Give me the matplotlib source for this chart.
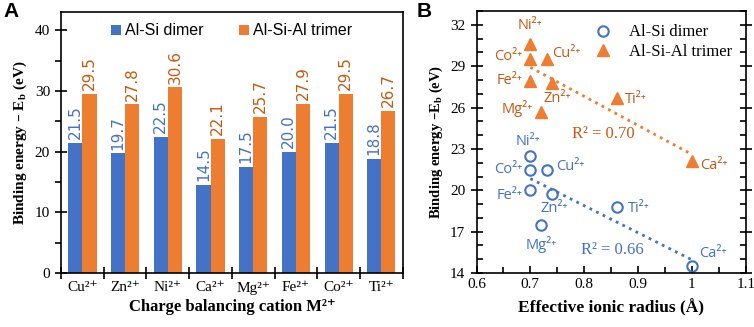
# -*- coding: utf-8 -*-
# Binding energies of Al-Si dimer / Al-Si-Al trimer with different cations
import numpy as np
import matplotlib
matplotlib.use('Agg')
import matplotlib.pyplot as plt
from matplotlib.ticker import MultipleLocator, FixedLocator

# Data
cations = ['Cu', 'Zn', 'Ni', 'Ca', 'Mg', 'Fe', 'Co', 'Ti']
dimer = [21.5, 19.7, 22.5, 14.5, 17.5, 20.0, 21.5, 18.8]
trimer = [29.5, 27.8, 30.6, 22.1, 25.7, 27.9, 29.5, 26.7]
radius = [0.73, 0.74, 0.70, 1.00, 0.72, 0.70, 0.70, 0.86]
xticks_b = [0.6, 0.7, 0.8, 0.9, 1.0, 1.1]
xticklabels_b = ['0.6', '0.7', '0.8', '0.9', '1', '1.1']
yticks_b = [14, 17, 20, 23, 26, 29, 32]

blue = '#4472C4'
orange = '#ED7D31'
dark_orange = '#C55A11'
serif = ['Liberation Serif', 'DejaVu Serif']
sans = ['Open Sans', 'DejaVu Sans']
narrow = ['Liberation Sans Narrow', 'DejaVu Sans']
sup = '²⁺'

fig = plt.figure(figsize=(7.54, 3.27), dpi=100)

# ---------------- Panel A ----------------
axA = fig.add_axes([0.081, 0.165, 0.453, 0.798])
x = np.arange(len(cations))
w = 0.33
axA.bar(x - w/2, dimer, w, color=blue, label='Al-Si dimer')
axA.bar(x + w/2, trimer, w, color=orange, label='Al-Si-Al trimer')
for i in range(len(cations)):
    axA.text(x[i] - w/2, dimer[i] + 0.6, '%.1f' % dimer[i], rotation=90,
             ha='center', va='bottom', color=blue, fontsize=11, family=narrow)
    axA.text(x[i] + w/2, trimer[i] + 0.6, '%.1f' % trimer[i], rotation=90,
             ha='center', va='bottom', color=dark_orange, fontsize=11, family=narrow)
axA.set_xlim(-0.5, len(cations) - 0.5)
axA.set_ylim(0, 43)
axA.set_xticks(x)
axA.set_xticklabels([c + sup for c in cations], family=serif, fontsize=11)
axA.xaxis.set_minor_locator(FixedLocator(np.arange(-0.5, len(cations) + 0.5, 1)))
axA.tick_params(axis='x', which='major', length=0, pad=6)
axA.tick_params(axis='x', which='minor', direction='inout', length=9, width=1.2)
axA.yaxis.set_major_locator(MultipleLocator(10))
axA.yaxis.set_minor_locator(MultipleLocator(5))
axA.tick_params(axis='y', which='major', direction='inout', length=9, width=1.2, labelsize=11)
axA.tick_params(axis='y', which='minor', direction='out', length=4, width=1.2)
for lab in axA.get_yticklabels():
    lab.set_family(serif)
for s in axA.spines.values():
    s.set_linewidth(1.2)
axA.set_ylabel(r'Binding energy – $\mathregular{E_b}$ (eV)', family=serif,
               fontweight='bold', fontsize=11, labelpad=4)
axA.set_xlabel('Charge balancing cation M' + sup, family=serif,
               fontweight='bold', fontsize=12, labelpad=3)
axA.legend(loc='upper center', ncol=2, frameon=False,
           prop={'family': ['Liberation Sans', 'DejaVu Sans'], 'size': 11.5},
           handlelength=0.6, handleheight=0.6, handletextpad=0.3, columnspacing=2.2,
           borderaxespad=0.3)
fig.text(0.005, 0.995, 'A', fontsize=15, fontweight='bold', family=['Liberation Sans', 'DejaVu Sans'],
         va='top', ha='left')

# ---------------- Panel B ----------------
axB = fig.add_axes([0.632, 0.165, 0.357, 0.801])
axB.plot(radius, dimer, 'o', mfc='none', mec=blue, mew=1.5, ms=7.5, label='Al-Si dimer',
         linestyle='none')
axB.plot(radius, trimer, '^', color=orange, ms=8, label='Al-Si-Al trimer', linestyle='none')

# linear trendlines
xl = np.array([0.70, 1.00])
p1 = np.polyfit(radius, dimer, 1)
p2 = np.polyfit(radius, trimer, 1)
axB.plot(xl, np.polyval(p1, xl), ':', color=blue, lw=2)
axB.plot(xl, np.polyval(p2, xl), ':', color=orange, lw=2)

# point labels (offsets in points)
off_trimer = {'Cu': (4, 4, 'left', 'center'), 'Zn': (-6, -6, 'left', 'top'),
              'Ni': (0, 8, 'center', 'bottom'), 'Ca': (6, -3, 'left', 'center'),
              'Mg': (-6, 2, 'right', 'center'), 'Fe': (-6, 1, 'right', 'center'),
              'Co': (-6, 2, 'right', 'center'), 'Ti': (6, -1, 'left', 'center')}
off_dimer = {'Cu': (7, 2, 'left', 'center'), 'Zn': (-8, -5, 'left', 'top'),
             'Ni': (-2, 5, 'center', 'bottom'), 'Ca': (5, 4, 'left', 'bottom'),
             'Mg': (0, -8, 'center', 'top'), 'Fe': (-6, -4, 'right', 'center'),
             'Co': (-6, 0, 'right', 'center'), 'Ti': (8, -1, 'left', 'center')}
for i, c in enumerate(cations):
    dx, dy, ha, va = off_trimer[c]
    axB.annotate(c + sup, (radius[i], trimer[i]), xytext=(dx, dy),
                 textcoords='offset points', ha=ha, va=va, color=dark_orange,
                 fontsize=10.5, family=sans)
    dx, dy, ha, va = off_dimer[c]
    axB.annotate(c + sup, (radius[i], dimer[i]), xytext=(dx, dy),
                 textcoords='offset points', ha=ha, va=va, color=blue,
                 fontsize=10.5, family=sans)

axB.text(0.836, 24.1, 'R² = 0.70', color=dark_orange, family=serif,
         fontsize=12, ha='center', va='center')
axB.text(0.853, 15.7, 'R² = 0.66', color=blue, family=serif,
         fontsize=12, ha='center', va='center')

axB.set_xlim(0.6, 1.1)
axB.set_ylim(14, 33)
axB.xaxis.set_major_locator(FixedLocator(xticks_b))
axB.xaxis.set_minor_locator(MultipleLocator(0.05))
axB.yaxis.set_major_locator(FixedLocator(yticks_b))
axB.yaxis.set_minor_locator(MultipleLocator(1))
axB.set_xticklabels(xticklabels_b)
axB.tick_params(axis='y', which='major', direction='inout', length=9, width=1.2,
                right=True, labelsize=11)
axB.tick_params(axis='y', which='minor', direction='in', length=4, width=1.2, right=True)
axB.tick_params(axis='x', which='major', direction='in', length=5, width=1.2, labelsize=11)
axB.tick_params(axis='x', which='minor', direction='in', length=4, width=1.2)
for lab in axB.get_xticklabels() + axB.get_yticklabels():
    lab.set_family(serif)
for s in axB.spines.values():
    s.set_linewidth(1.2)
axB.set_ylabel(r'Binding energy –$\mathregular{E_b}$ (eV)', family=serif,
               fontweight='bold', fontsize=10.5, labelpad=4)
axB.set_xlabel('Effective ionic radius (Å)', family=serif, fontweight='bold',
               fontsize=12.5, labelpad=6)
axB.legend(loc='upper right', frameon=False, prop={'family': serif, 'size': 12},
           handletextpad=0.6, borderaxespad=0.4, labelspacing=0.2)
fig.text(0.553, 0.995, 'B', fontsize=15, fontweight='bold', family=['Liberation Sans', 'DejaVu Sans'],
         va='top', ha='left')

plt.savefig('out.png', dpi=100)
